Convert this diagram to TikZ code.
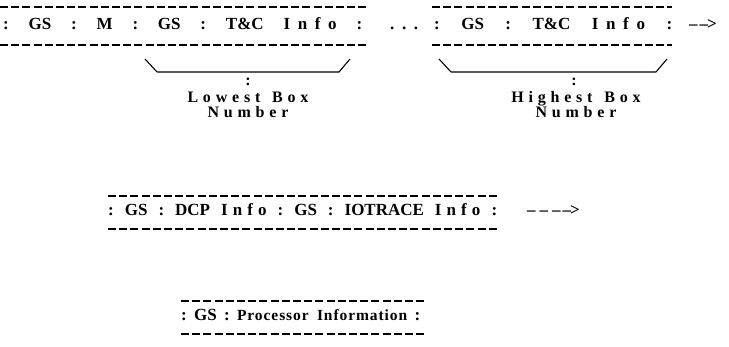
\documentclass[tikz,border=0pt]{standalone}
\usepackage{fontspec}
\setmainfont{Liberation Serif}
\usetikzlibrary{positioning}
% letter-spaced words and rows stretched to the width of their dashes
\newcommand\spaced[2][30]{{\addfontfeature{LetterSpace=#1}#2}}
\newcommand\spread[2]{\makebox[#1][s]{#2}}
\newcommand\dashto{\hspace{2pt}--\hspace{-1pt}>}
\tikzset{
  rowtext/.style={font=\bfseries\fontsize{17}{18}\selectfont, inner sep=0pt, anchor=base west},
  labtext/.style={font=\bfseries\fontsize{16}{15}\selectfont, inner sep=0pt, align=center},
  rule/.style={line width=1.1pt, dash pattern=on 8pt off 3.2pt},
  brace/.style={line width=1.1pt}
}

\begin{document}
\frenchspacing
\begin{tikzpicture}[x=1pt,y=-1pt]
    \useasboundingbox (0,0) rectangle (729,347);
    % first row of boxes
    \node[rowtext] (gsa) at (3,30) {\spread{359pt}{: GS : M : GS : T\&C \spaced[45]{Info} :}};
    \node[rowtext] (dots) at (390,30) {\spread{28pt}{. . .}};
    \node[rowtext] (gsb) at (434,30) {\spread{238pt}{: GS : T\&C \spaced[45]{Info} :}};
    \node[rowtext] (more) at (689,30) {--\dashto};
    \draw[rule] (0,7) -- (368,7);
    \draw[rule] (0,45) -- (368,45);
    \draw[rule] (432,7) -- (672,7);
    \draw[rule] (432,45) -- (672,45);
    % lowest box bracket
    \coordinate (lowa) at (145,59);
    \coordinate (lowb) at (157,72);
    \coordinate (lowc) at (339,72);
    \coordinate (lowd) at (350,59);
    \draw[brace] (lowa) -- (lowb) (lowb) -- (lowc) (lowc) -- (lowd);
    \node[labtext] (lowcol) at (248,82) {:};
    \node[labtext, anchor=base] (lowest) at (248,103) {\spaced{Lowest\hspace{3pt} Box}};
    \node[labtext, anchor=base] (lownum) at (248,118) {\spaced{Number}};
    % highest box bracket
    \coordinate (higha) at (439,59);
    \coordinate (highb) at (451,72);
    \coordinate (highc) at (656,72);
    \coordinate (highd) at (667,59);
    \draw[brace] (higha) -- (highb) (highb) -- (highc) (highc) -- (highd);
    \node[labtext] (highcol) at (574,82) {:};
    \node[labtext, anchor=base] (highest) at (576,103) {\spaced{Highest\hspace{3pt} Box}};
    \node[labtext, anchor=base] (highnum) at (576,118) {\spaced{Number}};
    % second row
    \node[rowtext] (dcp) at (108,216) {\spread{389pt}{: GS : DCP \spaced{Info} : GS : IOTRACE \spaced{Info} :}};
    \node[rowtext] (dcpmore) at (527,216) {--\hspace{4pt}--\hspace{4pt}--\dashto};
    \draw[rule] (108,196) -- (497,196);
    \draw[rule] (108,229) -- (497,229);
    % third row
    \node[rowtext] (proc) at (181,321) {\spread{239pt}{: GS : {\fontsize{15.5}{16}\selectfont\spaced[6]{Processor Information}} :}};
    \draw[rule] (181,301) -- (425,301);
    \draw[rule] (181,334) -- (425,334);
\end{tikzpicture}
\end{document}
